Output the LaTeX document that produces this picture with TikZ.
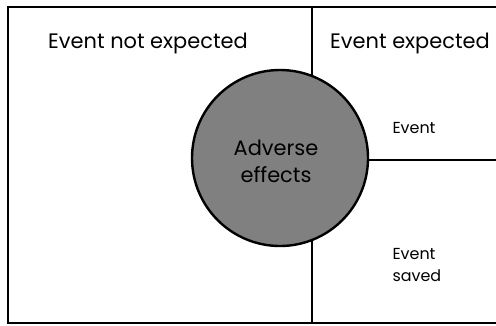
\documentclass[tikz,border=0pt]{standalone}
\usepackage{fontspec}
\setmainfont{Poppins}
\begin{document}
\begin{tikzpicture}[x=1bp,y=-1bp,
  frame/.style={line width=2.4bp,draw=black},
  bigtxt/.style={font=\fontsize{21}{24}\selectfont},
  midtxt/.style={font=\fontsize{21}{27}\selectfont,align=center},
  smalltxt/.style={font=\fontsize{16}{23}\selectfont,align=left},
  bubble/.style={circle,minimum size=176bp,inner sep=0pt,fill=gray,draw=black,line width=2.4bp}]
\useasboundingbox (0,0) rectangle (496,325);
\clip (0,0) rectangle (496,325);
\coordinate (tl) at (8,7);
\coordinate (tr) at (505,7);
\coordinate (bl) at (8,323);
\coordinate (br) at (505,323);
\coordinate (dt) at (312,7);
\coordinate (db) at (312,323);
\coordinate (hl) at (280,160);
\coordinate (hr) at (505,160);
\draw[frame] (tr) -- (tl) -- (bl) -- (br);
\draw[frame] (dt) -- (db);
\draw[frame] (hl) -- (hr);
\node[bubble] (c) at (280,158) {};
\node[midtxt] (ae) at (276,161) {Adverse\\effects};
\node[bigtxt] (ne) at (148,43) {Event not expected};
\node[bigtxt] (ex) at (410,43) {Event expected};
\node[smalltxt,anchor=west] (ev) at (389,128) {Event};
\node[smalltxt,anchor=west] (es) at (389,265) {Event\\saved};
\end{tikzpicture}
\end{document}
